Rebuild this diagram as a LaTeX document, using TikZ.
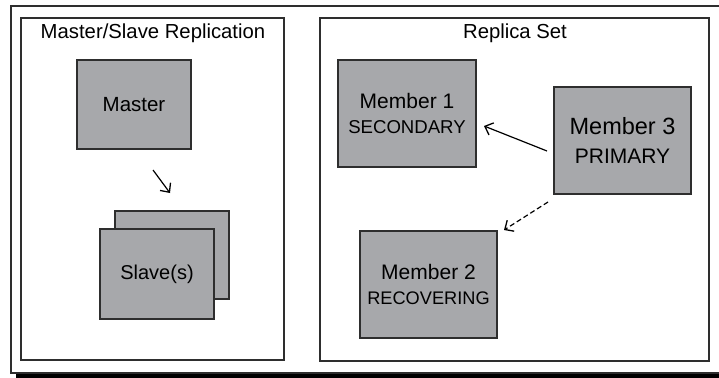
\documentclass[tikz,border=0pt]{standalone}
\usepackage{fontspec}
\setmainfont{Liberation Sans}
\usetikzlibrary{arrows.meta}
\definecolor{boxgray}{HTML}{A7A8AB}
\definecolor{edgegray}{HTML}{2E2E2E}
\begin{document}
\begin{tikzpicture}[x=1pt,y=-1pt,
  frame/.style={draw=edgegray,line width=1.3pt},
  srv/.style={draw=edgegray,fill=boxgray,line width=1.3pt,inner sep=0pt,align=center,text=black},
  title/.style={inner sep=0pt,text=black,font=\fontsize{20.3}{24}\selectfont},
  conn/.style={line width=1.2pt,-{Straight Barb[length=7pt,width=13pt,line width=1.3pt]}}]
\useasboundingbox (0,0) rectangle (719,377);
% outer frame and shadow
\fill[black] (16,373.5) rectangle (730,378);
\draw[frame] (11,6) rectangle (730,373);
% panels
\draw[frame] (21,18) rectangle (284,360);
\draw[frame] (320,18) rectangle (709,361);
\node[title] (t1) at (153,33) {Master/Slave Replication};
\node[title] (t2) at (515,33) {Replica Set};
% left panel
\node[srv,minimum width=114pt,minimum height=89pt,font=\fontsize{20.5}{24}\selectfont] (master) at (134,104.5) {Master};
\node[srv,minimum width=114pt,minimum height=88pt] (slaveback) at (172,255) {};
\node[srv,minimum width=114pt,minimum height=90pt,font=\fontsize{20}{24}\selectfont] (slave) at (157,274) {Slave(s)};
\coordinate (a1) at (153,170);
\coordinate (a2) at (170,193);
\draw[conn] (a1) -- (a2);
% right panel
\node[srv,minimum width=138pt,minimum height=107pt,font=\fontsize{21}{25}\selectfont] (m1) at (407,113.5) {Member 1\\{\fontsize{18.6}{25}\selectfont SECONDARY}};
\node[srv,minimum width=137pt,minimum height=107pt,font=\fontsize{23.5}{29}\selectfont] (m3) at (622.5,140.5) {Member 3\\{\fontsize{21}{29}\selectfont PRIMARY}};
\node[srv,minimum width=137pt,minimum height=107pt,font=\fontsize{21}{25}\selectfont] (m2) at (428.5,284.5) {Member 2\\{\fontsize{18.2}{25}\selectfont RECOVERING}};
\coordinate (s1) at (547,151);
\coordinate (s2) at (484,126);
\draw[conn] (s1) -- (s2);
\coordinate (d1) at (548,202);
\coordinate (d2) at (504,230);
\draw[conn,dash pattern=on 5pt off 3pt] (d1) -- (d2);
\end{tikzpicture}
\end{document}
